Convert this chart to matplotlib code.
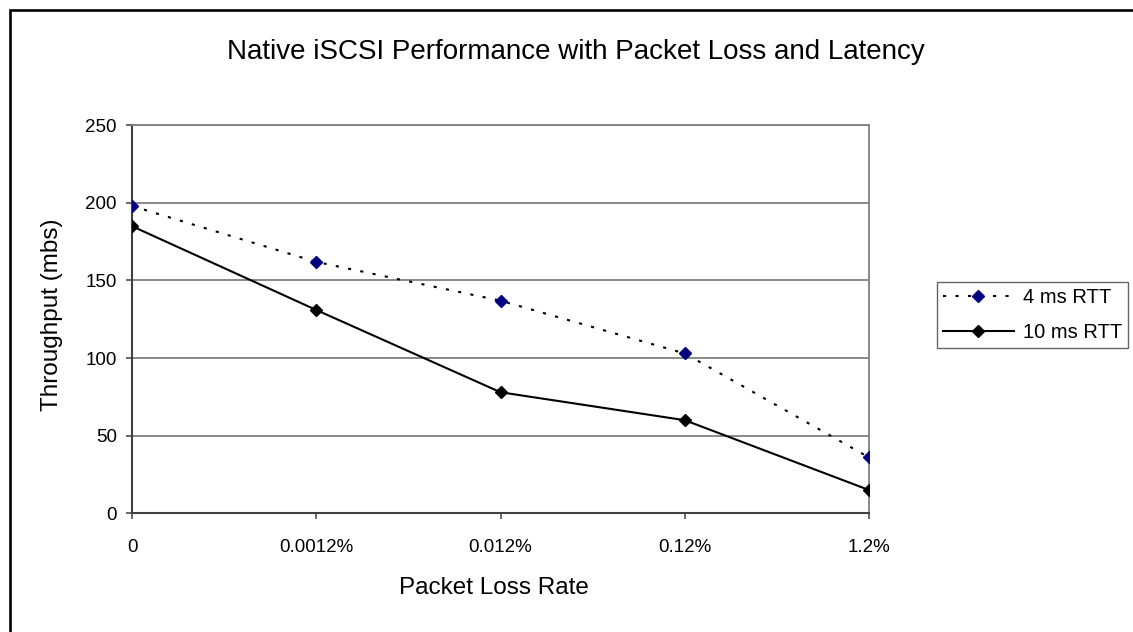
import matplotlib
matplotlib.use("Agg")
import matplotlib.pyplot as plt
from matplotlib.patches import Rectangle

categories = ["0", "0.0012%", "0.012%", "0.12%", "1.2%"]
rtt4 = [198, 162, 137, 103, 36]
rtt10 = [185, 131, 78, 60, 15]
series_names = ["4 ms RTT", "10 ms RTT"]
yticks = [0, 50, 100, 150, 200, 250]

plt.rcParams['font.family'] = ['Liberation Sans', 'DejaVu Sans']

W, H = 1133, 632
fig = plt.figure(figsize=(W / 100, H / 100), dpi=100)
fig.patch.set_facecolor('white')

# outer chart frame (its right and bottom edges lie outside the picture)
fig.patches.append(Rectangle((9.7 / W, -0.05), 1.2, 1 - 10.3 / H + 0.05,
                             transform=fig.transFigure, fill=False,
                             edgecolor='black', linewidth=1.9, zorder=0))

ax = fig.add_axes([132 / W, 1 - 513.3 / H, (869 - 132) / W, (513.3 - 125.3) / H])
x = list(range(len(categories)))

ax.plot(x, rtt4, color='black', linestyle=(0, (1.5, 4.5)), linewidth=1.5,
        marker='D', markersize=6, markerfacecolor='#000080',
        markeredgecolor='#000080', label=series_names[0], zorder=3)
ax.plot(x, rtt10, color='black', linestyle='-', linewidth=1.5,
        marker='D', markersize=6, markerfacecolor='black',
        markeredgecolor='black', label=series_names[1], zorder=3)

ax.set_xlim(0, len(categories) - 1)
ax.set_ylim(0, 250)
ax.set_xticks(x)
ax.set_xticklabels(categories)
ax.set_yticks(yticks)
ax.yaxis.grid(True, color='#808080', linewidth=1.3)
ax.set_axisbelow(True)

for s in ['top', 'right']:
    ax.spines[s].set_color('#808080')
    ax.spines[s].set_linewidth(1.3)
for s in ['left', 'bottom']:
    ax.spines[s].set_color('#404040')
    ax.spines[s].set_linewidth(1.5)

ax.tick_params(axis='x', direction='out', length=4.5, width=1.1, colors='#404040',
               labelcolor='black', labelsize=13.5, pad=14)
ax.tick_params(axis='y', direction='out', length=4, width=1.1, colors='#404040',
               labelcolor='black', labelsize=13.5, pad=7)

fig.text(576 / W, 1 - 51.7 / H, "Native iSCSI Performance with Packet Loss and Latency",
         ha='center', va='center', fontsize=20)
fig.text(494 / W, 1 - 588 / H, "Packet Loss Rate", ha='center', va='center', fontsize=17.5)
fig.text(52 / W, 1 - 315 / H, "Throughput (mbs)", ha='center', va='center',
         rotation=90, fontsize=17.5)

leg = fig.legend(loc='upper left', bbox_to_anchor=(937 / W, 1 - 282 / H),
                 fontsize=14.5, frameon=True, fancybox=False, shadow=False,
                 handlelength=3.5, handletextpad=0.45, borderpad=0.3,
                 labelspacing=0.8, borderaxespad=0)
leg.get_frame().set_edgecolor('#404040')
leg.get_frame().set_linewidth(1.0)

fig.savefig("out.png", dpi=100, facecolor='white')
